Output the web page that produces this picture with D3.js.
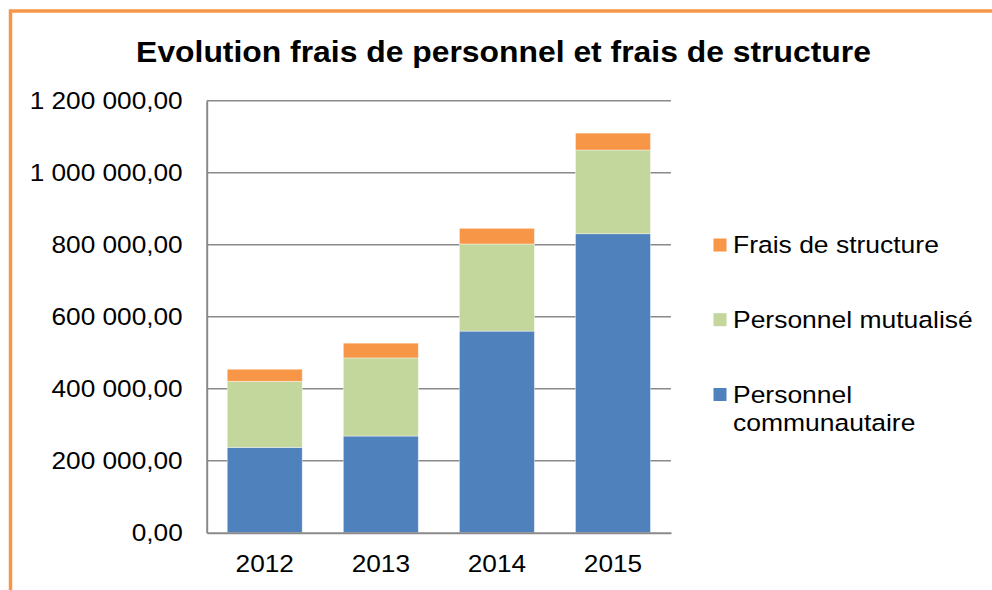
<!DOCTYPE html>
<html>
<head>
<meta charset="utf-8">
<script src="https://cdn.jsdelivr.net/npm/d3@7"></script>
<style>
  body { margin: 0; background: #fff; }
  svg { font-family: "Liberation Sans", Arial, sans-serif; }
</style>
</head>
<body>
<div id="chart"></div>
<script>
// chart data
const years = ["2012", "2013", "2014", "2015"];
const personnelCommunautaire = [237000, 268500, 560000, 830500];
const personnelMutualise = [183500, 217000, 242000, 232500];
const fraisStructure = [33500, 41000, 43500, 47000];
const seriesNames = ["Personnel communautaire", "Personnel mutualisé", "Frais de structure"];
const seriesColors = ["#4F81BD", "#C3D69B", "#F79646"];
const yTicks = [0, 200000, 400000, 600000, 800000, 1000000, 1200000];

const width = 992, height = 590;
const plot = { left: 206.7, right: 671, top: 100.7, bottom: 532.7 };

// the source picture is a bit wider than Arial, so stretch texts horizontally
function stretch(sel, k) {
  sel.each(function() {
    const len = this.getComputedTextLength();
    d3.select(this)
      .attr("textLength", len * k)
      .attr("lengthAdjust", "spacingAndGlyphs");
  });
}

const svg = d3.select("#chart").append("svg")
  .attr("width", width)
  .attr("height", height);

svg.append("rect")
  .attr("width", width).attr("height", height)
  .attr("fill", "#fff");

// orange frame
svg.append("rect")
  .attr("x", 10.5).attr("y", 11)
  .attr("width", 1000).attr("height", 600)
  .attr("fill", "none")
  .attr("stroke", "#F79646")
  .attr("stroke-width", 3.5);

const title = svg.append("text")
  .attr("x", 503.5).attr("y", 62)
  .attr("text-anchor", "middle")
  .style("font-size", "30px")
  .style("font-weight", "bold")
  .text("Evolution frais de personnel et frais de structure");
stretch(title, 1.062);

// scales
const x = d3.scaleBand()
  .domain(years)
  .range([plot.left, plot.right])
  .paddingInner(0.354)
  .paddingOuter(0.177);

const y = d3.scaleLinear()
  .domain([0, 1200000])
  .range([plot.bottom, plot.top]);

// gridlines
svg.append("g")
  .selectAll("line")
  .data(yTicks.slice(1))
  .join("line")
  .attr("x1", plot.left).attr("x2", plot.right)
  .attr("y1", d => y(d)).attr("y2", d => y(d))
  .attr("stroke", "#8a8a8a")
  .attr("stroke-width", 1.5);

// stacked bars
const rows = years.map((yr, i) => ({
  year: yr,
  "Personnel communautaire": personnelCommunautaire[i],
  "Personnel mutualisé": personnelMutualise[i],
  "Frais de structure": fraisStructure[i]
}));
const stacked = d3.stack().keys(seriesNames)(rows);

svg.append("g")
  .selectAll("g")
  .data(stacked)
  .join("g")
  .attr("fill", (d, i) => seriesColors[i])
  .selectAll("rect")
  .data(d => d)
  .join("rect")
  .attr("x", d => x(d.data.year))
  .attr("width", x.bandwidth())
  .attr("y", d => y(d[1]))
  .attr("height", d => y(d[0]) - y(d[1]))
  .attr("stroke", "#fff")
  .attr("stroke-opacity", 0.5)
  .attr("stroke-width", 0.8);

// axes
const fmt = d3.formatLocale({ decimal: ",", thousands: " ", grouping: [3], currency: ["", ""] }).format(",.2f");

const yAxis = svg.append("g")
  .attr("transform", `translate(${plot.left},0)`)
  .call(d3.axisLeft(y).tickValues(yTicks).tickSize(0).tickPadding(24).tickFormat(fmt));
yAxis.select(".domain").attr("stroke", "#8a8a8a").attr("stroke-width", 2);
yAxis.selectAll("text")
  .style("font-size", "24.5px")
  .attr("fill", "#000")
  .attr("font-family", null);
stretch(yAxis.selectAll("text"), 1.07);

const xAxis = svg.append("g")
  .attr("transform", `translate(0,${plot.bottom})`)
  .call(d3.axisBottom(x).tickSize(0).tickPadding(22));
xAxis.select(".domain").attr("stroke", "#8a8a8a").attr("stroke-width", 2);
xAxis.selectAll("text")
  .style("font-size", "24.5px")
  .attr("fill", "#000")
  .attr("font-family", null);
stretch(xAxis.selectAll("text"), 1.07);

// legend (reverse order, top = frais de structure)
const legendItems = [
  { name: ["Frais de structure"], color: seriesColors[2], cy: 245 },
  { name: ["Personnel mutualisé"], color: seriesColors[1], cy: 319.7 },
  { name: ["Personnel", "communautaire"], color: seriesColors[0], cy: 394.5 }
];
const legend = svg.append("g");
legendItems.forEach(it => {
  legend.append("rect")
    .attr("x", 713.5).attr("y", it.cy - 6.5)
    .attr("width", 13).attr("height", 13)
    .attr("fill", it.color);
  const t = legend.append("text")
    .attr("x", 733)
    .attr("y", it.cy + 8)
    .style("font-size", "24.5px");
  it.name.forEach((s, k) => {
    t.append("tspan").attr("x", 733).attr("dy", k === 0 ? 0 : 28).text(s);
  });
});
stretch(legend.selectAll("tspan"), 1.08);
</script>
</body>
</html>
